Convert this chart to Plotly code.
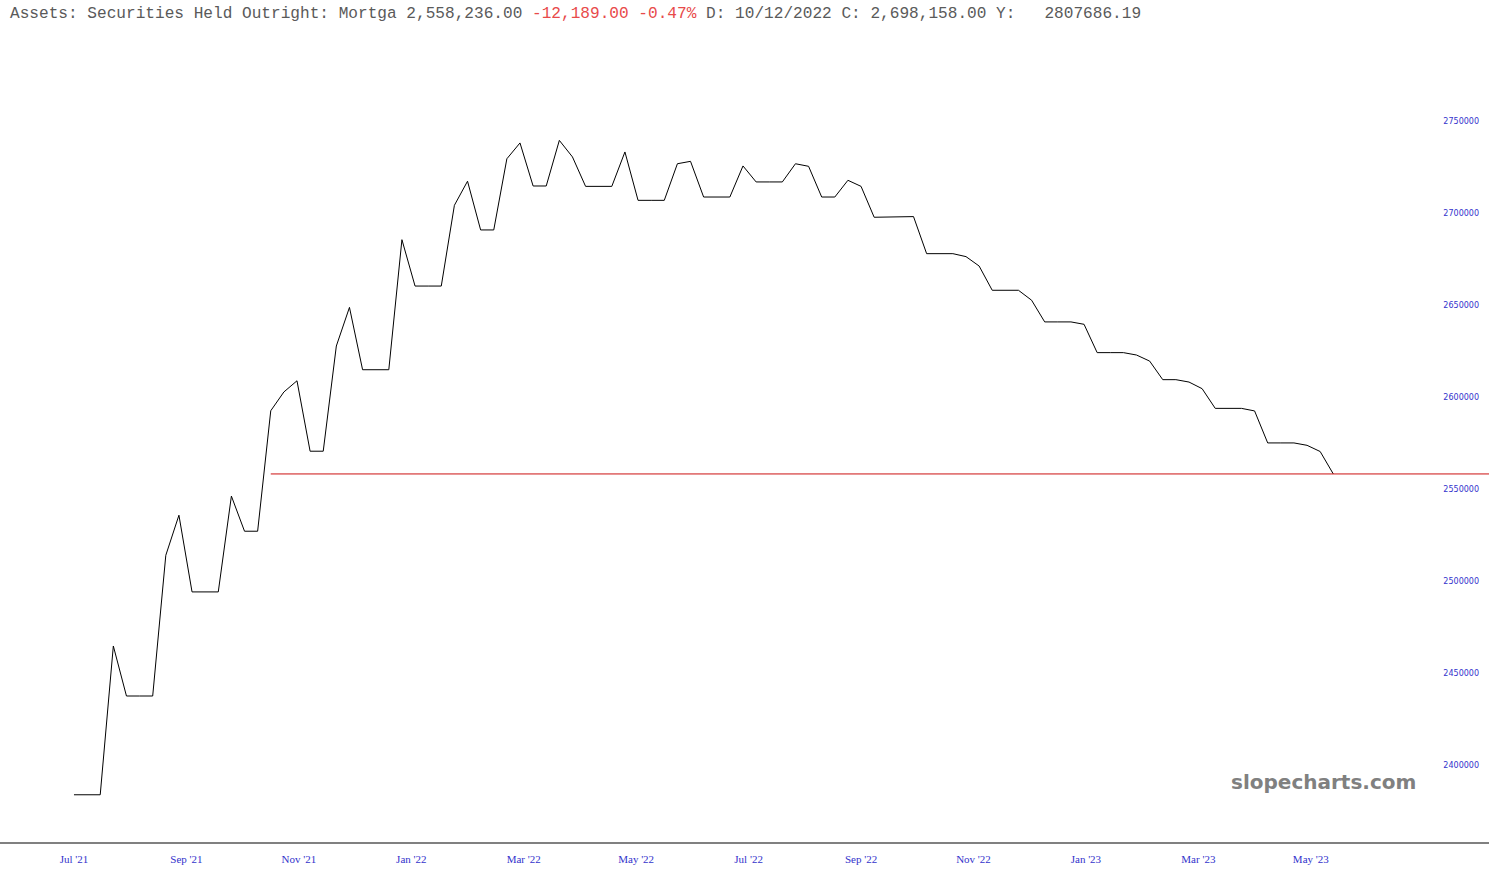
import plotly.graph_objects as go

values = [
    2383800, 2383800, 2383800, 2464700, 2437500, 2437500, 2437500, 2514000,
    2535800, 2494100, 2494100, 2494100, 2546200, 2527100, 2527100, 2592600,
    2602800, 2608900, 2570600, 2570600, 2627800, 2648800, 2614900, 2614900,
    2614900, 2685600, 2660400, 2660400, 2660400, 2704300, 2717400, 2690900,
    2690900, 2729600, 2738200, 2714800, 2714800, 2739600, 2730600, 2714600,
    2714600, 2714600, 2733300, 2707000, 2707000, 2707000, 2726900, 2728200,
    2708800, 2708800, 2708800, 2725700, 2717000, 2717000, 2717000, 2726900,
    2725500, 2708800, 2708800, 2717900, 2714600, 2697800, 2697800, 2697800,
    2698158, 2678000, 2678000, 2678000, 2676400, 2671300, 2658100, 2658100,
    2658100, 2652700, 2640900, 2640900, 2640900, 2639600, 2624200, 2624200,
    2624200, 2622900, 2619600, 2609500, 2609500, 2608200, 2604600, 2593900,
    2593900, 2593900, 2592500, 2575100, 2575100, 2575100, 2573800, 2570425,
    2558236,
]
x_tick_labels = ["Jul '21", "Sep '21", "Nov '21", "Jan '22", "Mar '22", "May '22",
                 "Jul '22", "Sep '22", "Nov '22", "Jan '23", "Mar '23", "May '23"]
y_ticks = [2400000, 2450000, 2500000, 2550000, 2600000, 2650000, 2700000, 2750000]

series_name = "Assets: Securities Held Outright: Mortga"
last_value = 2558236.00
change = -12189.00
change_pct = -0.47
hover_date = "10/12/2022"
hover_close = 2698158.00
hover_y = "2807686.19"

# ---- figure ----
weeks = list(range(len(values)))
x_min, x_max = -5.64, 107.87
weeks_per_month = 30 / 7
tick_pos = [i * 2 * weeks_per_month for i in range(len(x_tick_labels))]

red_start = next(i for i, v in enumerate(values) if v > values[-1])

fig = go.Figure()
fig.add_trace(go.Scatter(
    x=weeks, y=values, mode="lines",
    line=dict(color="#000000", width=1), hoverinfo="skip", showlegend=False,
))
fig.add_trace(go.Scatter(
    x=[red_start, x_max], y=[values[-1], values[-1]], mode="lines",
    line=dict(color="#cc1111", width=1), hoverinfo="skip", showlegend=False,
))

nb = "\u00a0"


def keep_spaces(s):
    return s.replace(" ", nb)


part1 = keep_spaces(f"{series_name} {last_value:,.2f} ")
part2 = keep_spaces(f"{change:,.2f} {change_pct:.2f}%")
part3 = keep_spaces(f" D: {hover_date} C: {hover_close:,.2f} Y:   {hover_y}")
header = (
    f'<span style="color:#5a5a5a">{part1}</span>'
    f'<span style="color:#e84a4a">{part2}</span>'
    f'<span style="color:#5a5a5a">{part3}</span>'
)

fig.update_layout(
    width=1489, height=881,
    margin=dict(l=0, r=0, t=40, b=39),
    paper_bgcolor="white", plot_bgcolor="white",
    title=dict(
        text=header, xref="container", yref="container",
        x=10 / 1489, y=1 - 12 / 881, xanchor="left", yanchor="middle",
        font=dict(family="Liberation Mono", size=16.13, color="#5a5a5a"),
    ),
    xaxis=dict(
        range=[x_min, x_max], tickmode="array", tickvals=tick_pos, ticktext=x_tick_labels,
        showgrid=False, zeroline=False, showline=True, linecolor="#808080", linewidth=2,
        ticks="", ticklabelstandoff=6,
        tickfont=dict(family="Liberation Serif", size=11, color="#3333cc"),
    ),
    yaxis=dict(
        range=[2358127, 2794175], side="right", ticklabelposition="inside",
        tickmode="array", tickvals=y_ticks, ticktext=[str(v) for v in y_ticks],
        showgrid=False, zeroline=False, showline=False, ticks="", ticklabelstandoff=7,
        tickfont=dict(family="DejaVu Sans", size=8, color="#3333cc"),
    ),
    annotations=[dict(
        text="<b>slopecharts.com</b>", xref="paper", yref="paper",
        x=1323 / 1489, y=(842 - 782) / 802, xanchor="center", yanchor="middle",
        showarrow=False, font=dict(family="DejaVu Sans", size=20, color="#808080"),
    )],
)

fig.write_html("out.html", config={"displayModeBar": False},
               post_script="document.body.style.margin='0';")
